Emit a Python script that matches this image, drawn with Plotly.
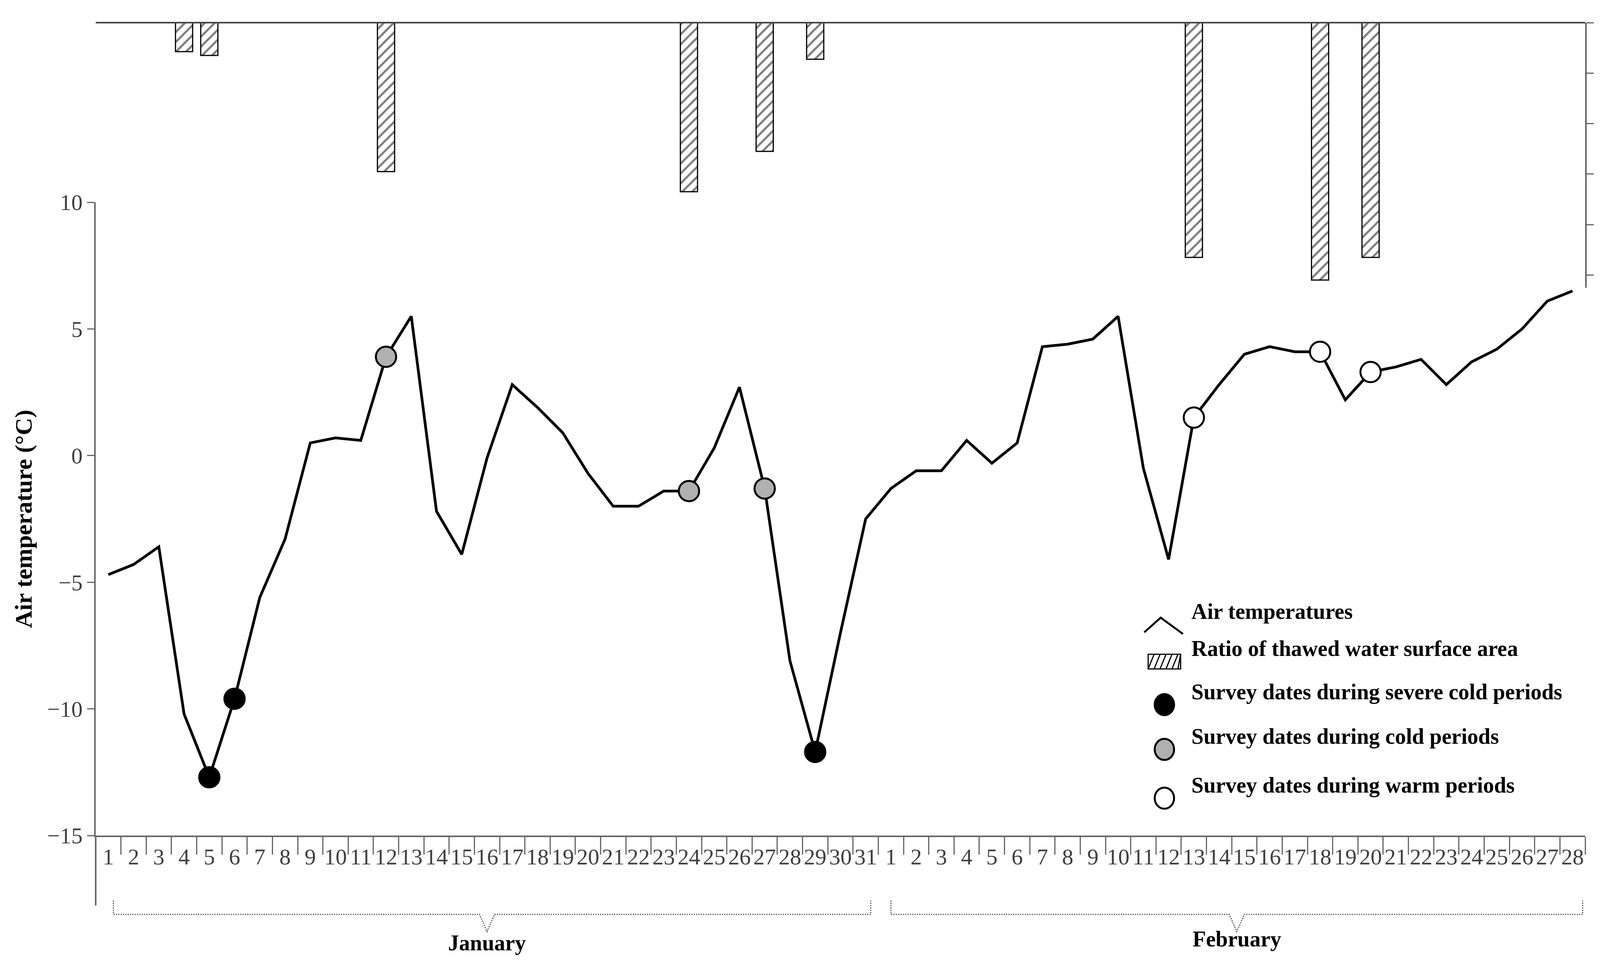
import plotly.graph_objects as go

# day labels: January 1-31, February 1-28
day_labels = [str(d) for d in range(1, 32)] + [str(d) for d in range(1, 29)]

air_temp = [-4.7, -4.3, -3.6, -10.2, -12.7, -9.6, -5.6, -3.3, 0.5, 0.7,
            0.6, 3.9, 5.5, -2.2, -3.9, -0.1, 2.8, 1.9, 0.9, -0.7,
            -2.0, -2.0, -1.4, -1.4, 0.3, 2.7, -1.3, -8.1, -11.7, -7.0,
            -2.5,
            -1.3, -0.6, -0.6, 0.6, -0.3, 0.5, 4.3, 4.4, 4.6, 5.5,
            -0.5, -4.1, 1.5, 2.8, 4.0, 4.3, 4.1, 4.1, 2.2, 3.3,
            3.5, 3.8, 2.8, 3.7, 4.2, 5.0, 6.1, 6.5]

# thawed ratio (%) bars: index of day, value
thaw_idx = [3, 4, 11, 23, 26, 28, 43, 48, 50]
thaw_val = [11.5, 13, 59, 67, 51, 14.5, 93, 102, 93]

severe_idx = [4, 5, 28]
cold_idx = [11, 23, 26]
warm_idx = [43, 48, 50]

legend_labels = ["Air temperatures", "Ratio of thawed water surface area",
                 "Survey dates during severe cold periods",
                 "Survey dates during cold periods",
                 "Survey dates during warm periods"]

x = list(range(len(day_labels)))
serif = "Liberation Serif"
lfont = dict(family=serif, size=56, color="black")

fig = go.Figure()
fig.add_trace(go.Scatter(x=x, y=air_temp, mode="lines",
                         line=dict(color="black", width=7), yaxis="y"))
fig.add_trace(go.Bar(x=thaw_idx, y=thaw_val, width=0.68, yaxis="y2",
                     marker=dict(color="white", line=dict(color="black", width=3),
                                 pattern=dict(shape="/", fgcolor="black", size=18, solidity=0.3))))
marker_cols = ["black", "#b0b0b0", "white"]
for idx, col in zip([severe_idx, cold_idx, warm_idx], marker_cols):
    fig.add_trace(go.Scatter(x=idx, y=[air_temp[i] for i in idx], mode="markers",
                             marker=dict(size=52, color=col, line=dict(color="black", width=5)),
                             yaxis="y"))

fig.update_layout(
    width=4320, height=2480, plot_bgcolor="white", paper_bgcolor="white",
    margin=dict(l=237, r=270, t=50, b=348),
    font=dict(family=serif, size=58, color="#333333"),
    showlegend=False,
    xaxis=dict(range=[-0.5, 58.5], tickmode="array", tickvals=x, ticktext=day_labels,
               showline=True, linecolor="#666666", linewidth=4, ticks="", showgrid=False,
               zeroline=False, tickfont=dict(size=58, color="#404040"),
               minor=dict(tickvals=[i - 0.5 for i in range(60)], ticks="outside",
                          ticklen=45, tickcolor="#666666", tickwidth=3)),
    yaxis=dict(domain=[0, 0.779], range=[-15, 10], tickvals=[-15, -10, -5, 0, 5, 10],
               showline=True, linecolor="#666666", linewidth=4, ticks="outside",
               ticklen=18, tickwidth=3, tickcolor="#666666", showgrid=False, zeroline=False,
               tickfont=dict(size=58, color="#404040"),
               title=dict(text="<b>Air temperature (°C)</b>", font=dict(size=62, color="black"),
                          standoff=20)),
    yaxis2=dict(domain=[0.674, 1], range=[105, 0], side="right", anchor="x",
                tickvals=[0, 20, 40, 60, 80, 100], showline=True, linecolor="#666666",
                linewidth=4, ticks="outside", ticklen=18, tickwidth=3, tickcolor="#666666",
                showgrid=False, zeroline=False, tickfont=dict(size=58, color="#404040")),
)

# top line of the bar area
fig.add_shape(type="line", xref="paper", yref="paper", x0=0, x1=1, y0=1, y1=1,
              line=dict(color="#444444", width=4))
# left edge extends below the axis
fig.add_shape(type="line", xref="paper", yref="paper", x0=0, x1=0, y0=0, y1=-0.086,
              line=dict(color="#666666", width=4))

# hand-drawn legend
leg_y = [0.260, 0.214, 0.161, 0.106, 0.046]
for txt, yy in zip(legend_labels, leg_y):
    fig.add_annotation(x=0.735, y=yy, xref="paper", yref="paper", text=f"<b>{txt}</b>",
                       xanchor="left", showarrow=False, font=lfont)
fig.add_shape(type="path", xref="paper", yref="paper",
              path=f"M 0.704,{leg_y[0]-0.010} L 0.715,{leg_y[0]+0.008} L 0.730,{leg_y[0]-0.012}",
              line=dict(color="black", width=5))
bx0, bx1, by0, by1 = 0.7066, 0.7284, leg_y[1] - 0.009, leg_y[1] + 0.009
fig.add_shape(type="rect", xref="paper", yref="paper", x0=bx0, x1=bx1, y0=by0, y1=by1,
              line=dict(color="black", width=3), fillcolor="white")
for k in range(6):
    sx = bx0 + k * 0.004
    fig.add_shape(type="line", xref="paper", yref="paper", x0=sx, y0=by0,
                  x1=min(sx + 0.004, bx1), y1=by1, line=dict(color="black", width=3))
for col, yy in zip(marker_cols, leg_y[2:]):
    fig.add_shape(type="circle", xref="paper", yref="paper", x0=0.7110, x1=0.7240,
                  y0=yy - 0.013, y1=yy + 0.013, fillcolor=col, line=dict(color="black", width=5))

# dashed braces under the months
def brace(x0, x1, xc):
    ytop, ymid, ybot = -0.08, -0.097, -0.118
    path = (f"M {x0},{ytop} L {x0},{ymid} L {xc-0.3},{ymid} L {xc},{ybot} "
            f"L {xc+0.3},{ymid} L {x1},{ymid} L {x1},{ytop}")
    fig.add_shape(type="path", xref="x", yref="paper", path=path,
                  line=dict(color="#555555", width=3, dash="dot"))

brace(0.2, 30.2, 15.0)
brace(31.0, 58.4, 44.7)
fig.add_annotation(x=15.0, y=-0.148, xref="x", yref="paper", text="<b>January</b>",
                   showarrow=False, font=lfont)
fig.add_annotation(x=44.7, y=-0.143, xref="x", yref="paper", text="<b>February</b>",
                   showarrow=False, font=lfont)
fig.add_annotation(x=1.062, y=0.85, xref="paper", yref="paper", text="<b>Thawedratio (%)</b>",
                   textangle=90, showarrow=False, font=dict(family=serif, size=62, color="black"))

fig.write_html("out.html")
